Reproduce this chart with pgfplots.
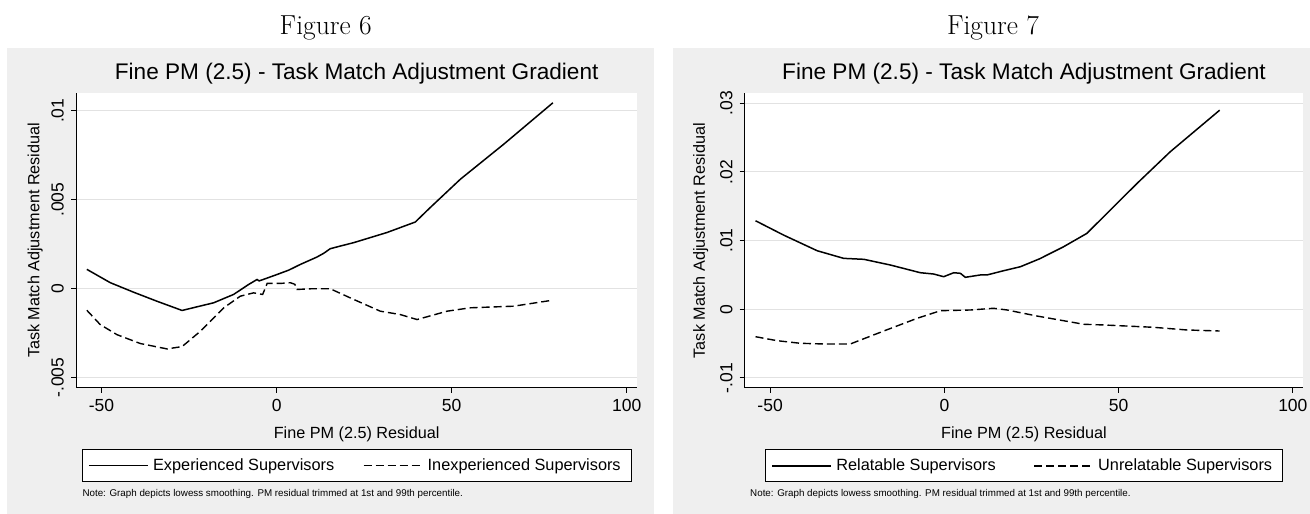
\documentclass[border=0pt]{standalone}
\usepackage{pgfplots}
\usepackage{pgfplotstable}
\pgfplotsset{compat=1.18}
\usepackage{fontspec}
\setsansfont{Liberation Sans}
\definecolor{panelgray}{RGB}{239,239,239}
\definecolor{gridgray}{RGB}{226,226,226}

\pgfplotstableread{
x y
-54.2 0.00109
-47.5 0.00034
-40.9 -0.00019
-34.2 -0.00070
-27.0 -0.00122
-22.0 -0.00098
-18.0 -0.00079
-12.3 -0.00032
-8.0 0.00024
-5.6 0.00052
-5.0 0.00044
-3.0 0.00058
0.1 0.00080
3.5 0.00105
6.8 0.00137
11.5 0.00178
13.5 0.00200
15.3 0.00225
18.2 0.00240
22.0 0.00259
31.5 0.00316
39.6 0.00375
43.9 0.00457
52.5 0.00616
64.9 0.00813
78.9 0.01045
}\expdata

\pgfplotstableread{
x y
-54.2 -0.00121
-50.4 -0.00201
-45.6 -0.00258
-38.9 -0.00308
-31.3 -0.00338
-27.0 -0.00325
-21.8 -0.00239
-15.1 -0.00107
-10.4 -0.00042
-6.6 -0.00023
-4.0 -0.00032
-2.7 0.00030
1.1 0.00030
3.9 0.00034
5.2 0.00025
5.8 -0.00004
10.0 0.00000
15.3 0.00000
22.0 -0.00060
29.6 -0.00126
35.3 -0.00145
40.1 -0.00173
48.7 -0.00126
55.3 -0.00107
67.7 -0.00098
78.9 -0.00064
}\inexpdata

\pgfplotstableread{
x y
-54.2 0.01290
-46.1 0.01080
-36.5 0.00853
-28.9 0.00742
-23.1 0.00728
-15.5 0.00645
-6.9 0.00533
-3.1 0.00514
-0.2 0.00475
2.7 0.00533
4.6 0.00524
6.0 0.00466
7.5 0.00478
10.3 0.00500
12.2 0.00500
17.0 0.00562
21.8 0.00620
27.3 0.00735
34.2 0.00911
40.9 0.01106
47.6 0.01445
55.3 0.01834
64.8 0.02294
79.0 0.02900
}\reldata

\pgfplotstableread{
x y
-54.2 -0.00399
-48.0 -0.00457
-41.3 -0.00495
-34.6 -0.00505
-27.0 -0.00505
-17.4 -0.00316
-7.8 -0.00131
-1.1 -0.00020
7.5 -0.00010
14.1 0.00015
18.0 -0.00010
26.6 -0.00098
34.2 -0.00166
40.0 -0.00218
45.7 -0.00228
60.0 -0.00262
69.6 -0.00301
79.0 -0.00316
}\unreldata

\pgfplotsset{
  stataplot/.style={
    scale only axis,
    anchor=south west,
    axis background/.style={fill=white},
    axis x line*=bottom, axis y line*=left,
    axis line style={-, black, line width=1pt},
    tick align=outside,
    major tick length=5pt,
    every tick/.style={black, line width=1pt},
    ymajorgrids,
    grid style={gridgray, line width=1pt},
    xmin=-57.3, xmax=103,
    xtick={-50,0,50,100}, xticklabels={-50,0,50,100},
    scaled y ticks=false, scaled x ticks=false,
    tick label style={font=\sffamily\fontsize{17.5}{20}\selectfont},
    xticklabel style={anchor=north, inner ysep=6pt},
    yticklabel style={rotate=90, anchor=south, inner ysep=7pt},
    title style={anchor=base, font=\sffamily\fontsize{22.6}{26}\selectfont},
    xlabel style={anchor=base, font=\sffamily\fontsize{16.2}{19}\selectfont},
    ylabel style={anchor=base, font=\sffamily\fontsize{16.2}{19}\selectfont},
    legend columns=2,
    legend image code/.code={\draw[##1] (0pt,0pt) -- (59pt,0pt);},
    legend style={anchor=center, draw=black, line width=1pt, fill=white,
      font=\sffamily\fontsize{16.3}{19}\selectfont,
      inner xsep=6pt, inner ysep=6.5pt,
      nodes={inner xsep=4.5pt, inner ysep=3pt}},
    solidline/.style={black, line width=1.5pt},
    dashline/.style={black, line width=1.4pt, dash pattern=on 8pt off 4pt},
  }
}

\begin{document}
\begin{tikzpicture}
\path[use as bounding box] (0pt,0pt) rectangle (1310pt,514pt);
\fill[panelgray] (7pt,0pt) rectangle (654pt,466pt);
\fill[panelgray] (673pt,0pt) rectangle (1310pt,466pt);
\node[anchor=base, font=\fontsize{27.5}{30}\selectfont] at (325.7pt,479pt) {Figure 6};
\node[anchor=base, font=\fontsize{27.5}{30}\selectfont] at (993pt,479pt) {Figure 7};

\begin{axis}[stataplot,
  at={(76pt,126.3pt)}, width=561.3pt, height=294.7pt,
  ymin=-0.00556, ymax=0.0110,
  ytick={-0.005,0,0.005,0.01}, yticklabels={-.005,0,.005,.01},
  title={Fine PM (2.5) - Task Match Adjustment Gradient},
  title style={at={(0.5,1.0271)}},
  xlabel={Fine PM (2.5) Residual},
  xlabel style={at={(0.5,-0.1717)}},
  ylabel={Task Match Adjustment Residual},
  ylabel style={at={(-0.0654,0.5)}},
  legend style={at={(0.5,-0.264)}, /tikz/every even column/.append style={column sep=24pt}},
]
\addplot[solidline] table[x=x,y=y] {\expdata};
\addlegendentry{Experienced Supervisors}
\addplot[dashline] table[x=x,y=y] {\inexpdata};
\addlegendentry{Inexperienced Supervisors}
\end{axis}

\begin{axis}[stataplot,
  at={(744.7pt,126pt)}, width=558.6pt, height=294.7pt,
  ymin=-0.01146, ymax=0.03146,
  ytick={-0.01,0,0.01,0.02,0.03}, yticklabels={-.01,0,.01,.02,.03},
  title={Fine PM (2.5) - Task Match Adjustment Gradient},
  title style={at={(0.5,1.0271)}},
  xlabel={Fine PM (2.5) Residual},
  xlabel style={at={(0.5,-0.1717)}},
  ylabel={Task Match Adjustment Residual},
  ylabel style={at={(-0.0711,0.5)}},
  legend style={at={(0.5,-0.264)}, /tikz/every even column/.append style={column sep=33pt}},
]
\addplot[solidline] table[x=x,y=y] {\reldata};
\addlegendentry{Relatable Supervisors}
\addplot[dashline] table[x=x,y=y] {\unreldata};
\addlegendentry{Unrelatable Supervisors}
\end{axis}

\node[anchor=base west, font=\sffamily\fontsize{9.8}{11}\selectfont] at (79pt,17pt) {Note: Graph depicts lowess smoothing. PM residual trimmed at 1st and 99th percentile.};
\node[anchor=base west, font=\sffamily\fontsize{9.8}{11}\selectfont] at (746.7pt,17pt) {Note: Graph depicts lowess smoothing. PM residual trimmed at 1st and 99th percentile.};
\end{tikzpicture}
\end{document}
